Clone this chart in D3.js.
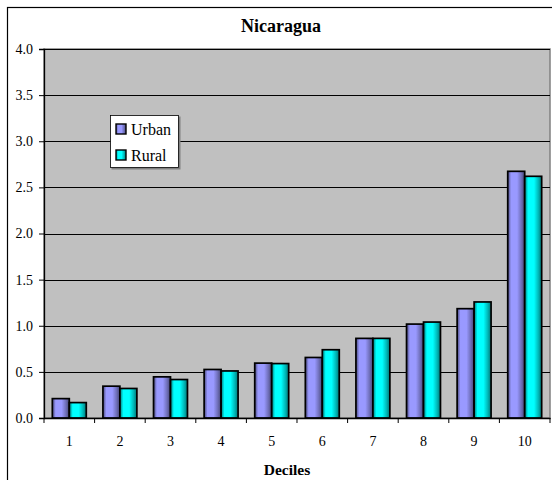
<!DOCTYPE html>
<html>
<head>
<meta charset="utf-8">
<title>Nicaragua</title>
<script src="https://d3js.org/d3.v7.min.js"></script>
<style>
body { margin: 0; background: white; }
svg text { font-family: "Liberation Serif", "Times New Roman", "DejaVu Serif", serif; fill: black; }
.title, .xtitle { font-weight: bold; }
</style>
</head>
<body>
<svg id="chart" width="552" height="480"></svg>
<script>

var deciles = ["1", "2", "3", "4", "5", "6", "7", "8", "9", "10"];
var urban = [0.21, 0.345, 0.446, 0.526, 0.595, 0.656, 0.863, 1.018, 1.185, 2.674];
var rural = [0.167, 0.32, 0.417, 0.51, 0.59, 0.74, 0.863, 1.04, 1.258, 2.62];
var seriesNames = ["Urban", "Rural"];
var seriesColors = ["#9999FF", "#00FFFF"];
var yTicks = [0, 0.5, 1, 1.5, 2, 2.5, 3, 3.5, 4];

var serif = "'Liberation Serif', 'Times New Roman', serif";
var svg = d3.select("#chart");

var plotLeft = 44, plotRight = 550, plotTop = 49, plotBottom = 418;

// outer chart frame (right and bottom edges fall outside the picture)
svg.append("rect")
  .attr("x", 7.5).attr("y", 7.5)
  .attr("width", 560).attr("height", 490)
  .attr("fill", "white")
  .attr("stroke", "black").attr("stroke-width", 1.2);

var defs = svg.append("defs");
seriesColors.forEach(function(c, i) {
  var g = defs.append("linearGradient").attr("id", "grad" + i)
    .attr("x1", "0%").attr("x2", "100%").attr("y1", "0%").attr("y2", "0%");
  var dark = d3.color(c).darker(2.2);
  var mid = d3.color(c).darker(0.9);
  g.append("stop").attr("offset", "0%").attr("stop-color", dark);
  g.append("stop").attr("offset", "20%").attr("stop-color", c);
  g.append("stop").attr("offset", "55%").attr("stop-color", c);
  g.append("stop").attr("offset", "80%").attr("stop-color", mid);
  g.append("stop").attr("offset", "100%").attr("stop-color", dark);
});

var x = d3.scaleBand().domain(deciles).range([plotLeft, plotRight]).paddingInner(0).paddingOuter(0);
var inner = d3.scaleBand().domain(seriesNames).range([0, x.bandwidth()]).paddingInner(0).paddingOuter(0.49);
var y = d3.scaleLinear().domain([0, 4]).range([plotBottom, plotTop]);

// plot area
svg.append("rect")
  .attr("x", plotLeft).attr("y", plotTop)
  .attr("width", plotRight - plotLeft).attr("height", plotBottom - plotTop)
  .attr("fill", "#C0C0C0")
  .attr("stroke", "#808080").attr("stroke-width", 1.5);

// gridlines
svg.append("g")
  .selectAll("line")
  .data(yTicks.filter(function(d) { return d > 0; }))
  .enter().append("line")
    .attr("x1", plotLeft).attr("x2", plotRight)
    .attr("y1", function(d) { return Math.round(y(d)) + 0.5; })
    .attr("y2", function(d) { return Math.round(y(d)) + 0.5; })
    .attr("stroke", "black").attr("stroke-width", 1);

// bars
var data = [];
deciles.forEach(function(d, i) {
  data.push({ dec: d, s: 0, v: urban[i] });
  data.push({ dec: d, s: 1, v: rural[i] });
});

svg.append("g")
  .selectAll("rect")
  .data(data)
  .enter().append("rect")
    .attr("x", function(d) { return x(d.dec) + inner(seriesNames[d.s]); })
    .attr("y", function(d) { return y(d.v); })
    .attr("width", inner.bandwidth())
    .attr("height", function(d) { return y(0) - y(d.v); })
    .attr("fill", function(d) { return "url(#grad" + d.s + ")"; })
    .attr("stroke", "black").attr("stroke-width", 1.7);

// y axis
var yAxis = svg.append("g")
  .attr("transform", "translate(" + plotLeft + ",0)")
  .call(d3.axisLeft(y).tickValues(yTicks).tickFormat(d3.format(".1f")).tickSize(5).tickPadding(6));

// x axis
var xAxis = svg.append("g")
  .attr("transform", "translate(0," + plotBottom + ")")
  .call(d3.axisBottom(x).tickSize(0).tickPadding(18));
xAxis.selectAll(".tick").append("line")
  .attr("x1", -x.bandwidth() / 2).attr("x2", -x.bandwidth() / 2)
  .attr("y1", 0).attr("y2", 5)
  .attr("stroke", "black");
xAxis.append("line")
  .attr("x1", plotRight).attr("x2", plotRight).attr("y1", 0).attr("y2", 5)
  .attr("stroke", "black");
svg.selectAll(".domain").attr("stroke", "black").attr("stroke-width", 1.3);
svg.selectAll(".tick text")
  .attr("font-size", null).attr("font-family", null)
  .style("font-family", serif).style("font-size", "14px");

// titles
svg.append("text").attr("class", "title")
  .attr("x", 281).attr("y", 32)
  .attr("text-anchor", "middle")
  .style("font-family", serif).style("font-size", "18px")
  .text("Nicaragua");

svg.append("text").attr("class", "xtitle")
  .attr("x", 287).attr("y", 475)
  .attr("text-anchor", "middle")
  .style("font-family", serif).style("font-size", "15.5px")
  .text("Deciles");

// legend
var legend = svg.append("g").attr("transform", "translate(110,115)");
legend.append("rect")
  .attr("x", 1.5).attr("y", 1.5).attr("width", 69).attr("height", 53)
  .attr("fill", "#808080");
legend.append("rect")
  .attr("x", 0.5).attr("y", 0.5).attr("width", 68).attr("height", 52)
  .attr("fill", "white").attr("stroke", "black").attr("stroke-width", 0.8);
var items = legend.selectAll("g.item")
  .data(seriesNames)
  .enter().append("g").attr("class", "item")
  .attr("transform", function(d, i) { return "translate(6," + (9 + i * 26) + ")"; });
items.append("rect")
  .attr("width", 10).attr("height", 10)
  .attr("fill", function(d, i) { return "url(#grad" + i + ")"; })
  .attr("stroke", "black").attr("stroke-width", 1.4);
items.append("text")
  .attr("x", 15).attr("y", 11)
  .style("font-family", serif).style("font-size", "16px")
  .text(function(d) { return d; });

</script>
</body>
</html>
